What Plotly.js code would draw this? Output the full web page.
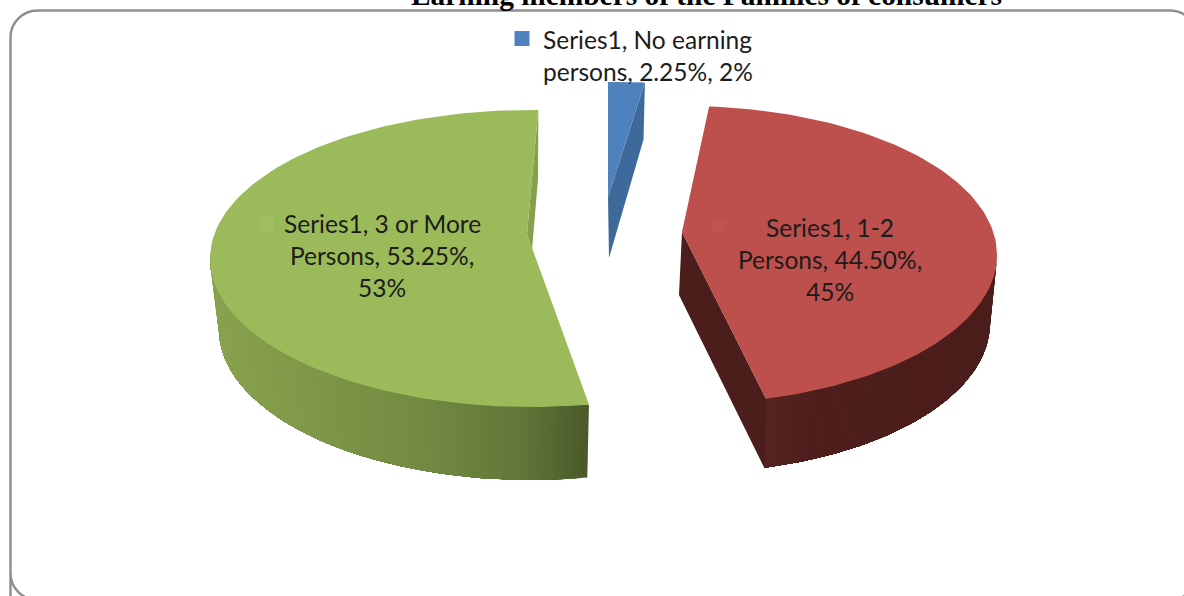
<!DOCTYPE html>
<html>
<head>
<meta charset="utf-8">
<script src="https://cdn.plot.ly/plotly-3.0.1.min.js"></script>
<style>html,body{margin:0;padding:0;background:#fff;overflow:hidden}#chart{width:1184px;height:596px}</style>
</head>
<body>
<div id="chart"></div>
<script>
// Data
const categories = ["No earning persons", "1-2 Persons", "3 or More Persons"];
const shares = [2.25, 44.5, 53.25];
const labelLines = [
  ["Series1, No earning", "persons, 2.25%, 2%"],
  ["Series1, 1-2", "Persons, 44.50%,", "45%"],
  ["Series1, 3 or More", "Persons, 53.25%,", "53%"]
];
const titleText = "Earning members of the Families of consumers";

// Projection of each exploded slice (pixel-like axis units)
const slices = [
  {top:"#4F81BD", face:"#3E6A9B", key:"#4F81BD", rot:0,
   apex:[608,197], apexB:[609,258], c:[608,142], r:[262,60], cB:[608,199], rB:[252,60],
   keyAt:[522,38.5], text:{x:541,y:[39,71],anchor:"left"}, wall:null},
  {top:"#BD4F4C", face:"#4B1D1B", key:"#C2524F", rot:-3.5,
   apex:[682,232], apexB:[679,295], c:[684,255], r:[313,149], cB:[684,323], rB:[306,150],
   keyAt:[719,226], text:{x:830,y:[227,259,291],anchor:"center"},
   wall:{from:90, x:[680,770,810,1000], colors:[[86,35,32],[86,35,32],[77,30,28],[75,29,27]]}},
  {top:"#9BBA59", face:"#84A04A", key:"#9FBE5E", rot:1.3,
   apex:[527,234], apexB:[532,250], c:[531,258.5], r:[321,148.5], cB:[531,329], rB:[312,151],
   keyAt:[266,224], text:{x:382,y:[223,255,287],anchor:"center"},
   wall:{to:270, x:[215,300,420,520,587], colors:[[136,162,78],[128,152,72],[114,138,66],[97,119,56],[74,90,42]]}}
];

const traces = [];
const annotations = [];
const rad = d => d * Math.PI / 180;
const onEllipse = (c, r, deg) => [c[0] + r[0] * Math.sin(rad(deg)), c[1] - r[1] * Math.cos(rad(deg))];
function polygon(pts, color) {
  traces.push({type:"scatter", mode:"lines", x:pts.map(p=>p[0]).concat(pts[0][0]), y:pts.map(p=>p[1]).concat(pts[0][1]),
    fill:"toself", fillcolor:color, line:{color:color, width:0}, hoverinfo:"skip", showlegend:false});
}
function ramp(w, x) {
  let i = 0;
  while (i < w.x.length - 2 && x > w.x[i+1]) i++;
  const t = Math.max(0, Math.min(1, (x - w.x[i]) / (w.x[i+1] - w.x[i])));
  const c = w.colors[i].map((v, k) => Math.round(v + (w.colors[i+1][k] - v) * t));
  return `rgb(${c[0]},${c[1]},${c[2]})`;
}

// Angles follow the values, clockwise from the top
const total = shares.reduce((a, b) => a + b, 0);
let cumulative = 0;
slices.forEach((s, i) => {
  const start = cumulative / total * 360 + s.rot;
  cumulative += shares[i];
  const end = cumulative / total * 360 + s.rot;

  // outer wall: each strip runs on to the far end of the wall and the next one paints over it
  if (s.wall) {
    const a0 = s.wall.from !== undefined ? s.wall.from : start;
    const a1 = s.wall.to !== undefined ? s.wall.to : end;
    const n = Math.ceil(Math.abs(a1 - a0));
    const edge = [], edgeB = [];
    for (let m = 0; m <= n; m++) {
      const a = a0 + (a1 - a0) * m / n;
      edge.push(onEllipse(s.c, s.r, a));
      edgeB.push(onEllipse(s.cB, s.rB, a));
    }
    for (let k = 0; k < n; k++) {
      const pts = edge.slice(k).concat(edgeB.slice(k).reverse());
      polygon(pts, ramp(s.wall, (edge[k][0] + edge[k+1][0]) / 2));
    }
  }
  // cut face that shows
  polygon([s.apex, onEllipse(s.c, s.r, end), onEllipse(s.cB, s.rB, end), s.apexB], s.face);
  // top surface
  const outline = [s.apex];
  const steps = Math.max(4, Math.ceil((end - start) / 1.5));
  for (let k = 0; k <= steps; k++) outline.push(onEllipse(s.c, s.r, start + (end - start) * k / steps));
  polygon(outline, s.top);
  // data label key
  traces.push({type:"scatter", mode:"markers", x:[s.keyAt[0]], y:[s.keyAt[1]],
    marker:{symbol:"square", size:15, color:s.key, line:{width:0}}, name:categories[i], hoverinfo:"skip", showlegend:false});
  // data label text
  labelLines[i].forEach((line, j) => annotations.push({
    xref:"x", yref:"y", x:s.text.x, y:s.text.y[j], text:line, showarrow:false,
    xanchor:s.text.anchor, yanchor:"middle", align:s.text.anchor,
    font:{family:"Lato, 'Open Sans', sans-serif", size:24.5, color:"#1c1c1c"}
  }));
});

// Chart frame, running past the right and bottom edges of the page
const frame = "M 10.5 600 L 10.5 573 L 10.5 37.5 C 10.5 22.6 22.6 10.5 37.5 10.5 L 1170 10.5 C 1185 10.5 1197 22.6 1197 37.5 L 1197 573 C 1197 588 1185 600 1170 600 L 37.5 600 C 22.6 600 10.5 588 10.5 573";

const layout = {
  width:1184, height:596,
  margin:{l:0,r:0,t:0,b:0,pad:0},
  paper_bgcolor:"#ffffff", plot_bgcolor:"rgba(0,0,0,0)",
  showlegend:false,
  title:{text:"<b>"+titleText+"</b>", x:706.5/1184, xanchor:"center", y:1-5/596, yanchor:"bottom",
         font:{family:"'Liberation Serif', serif", size:29.4, color:"#000000"}},
  xaxis:{visible:false, range:[0,1184], fixedrange:true},
  yaxis:{visible:false, range:[596,0], fixedrange:true},
  shapes:[{type:"path", xref:"x", yref:"y", path:frame, line:{color:"#8f8f8f", width:2.4}, layer:"below"}],
  annotations:annotations
};
Plotly.newPlot("chart", traces, layout, {displayModeBar:false, staticPlot:true});
</script>
</body>
</html>
